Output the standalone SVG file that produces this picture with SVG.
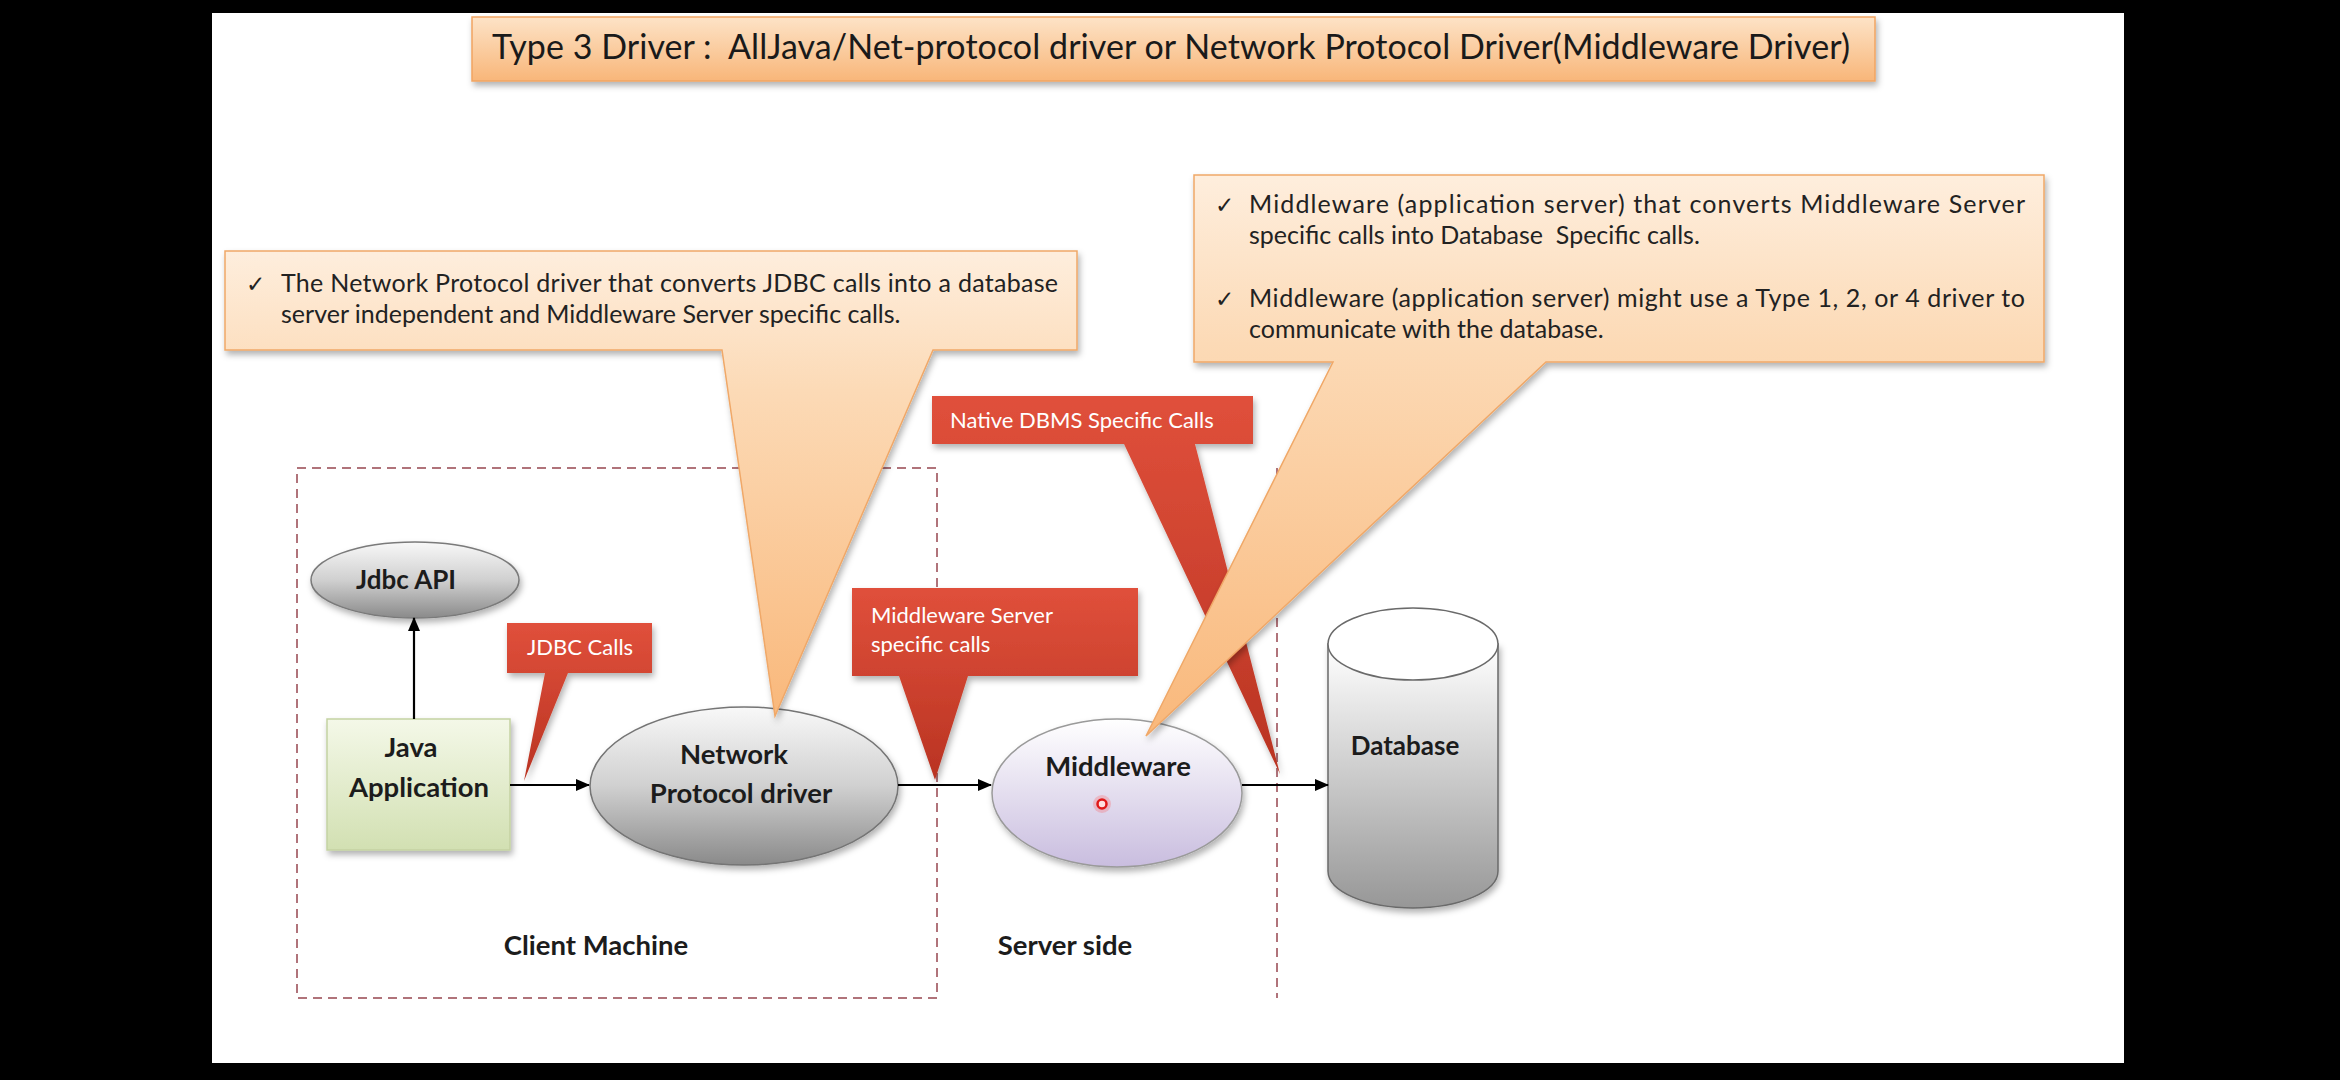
<svg xmlns="http://www.w3.org/2000/svg" width="2340" height="1080" viewBox="0 0 2340 1080">
<defs>
<linearGradient id="gOrange" x1="0" y1="0" x2="0" y2="1"><stop offset="0" stop-color="#feeedd"/><stop offset="0.3" stop-color="#fcdab6"/><stop offset="1" stop-color="#f9b87b"/></linearGradient>
<linearGradient id="gTitle" x1="0" y1="0" x2="0" y2="1"><stop offset="0" stop-color="#fde3c7"/><stop offset="1" stop-color="#f8b679"/></linearGradient>
<linearGradient id="gRed" x1="0" y1="0" x2="0" y2="1"><stop offset="0" stop-color="#e0503b"/><stop offset="1" stop-color="#b93322"/></linearGradient>
<linearGradient id="gGray" x1="0" y1="0" x2="0" y2="1"><stop offset="0" stop-color="#f8f8f8"/><stop offset="0.5" stop-color="#d0d0d0"/><stop offset="1" stop-color="#8a8a8a"/></linearGradient>
<linearGradient id="gLav" x1="0" y1="0" x2="0" y2="1"><stop offset="0" stop-color="#ffffff"/><stop offset="1" stop-color="#c9bddf"/></linearGradient>
<linearGradient id="gGreen" x1="0" y1="0" x2="0" y2="1"><stop offset="0" stop-color="#f4f8e8"/><stop offset="1" stop-color="#d2e0b2"/></linearGradient>
<linearGradient id="gDb" x1="0" y1="0" x2="0" y2="1"><stop offset="0" stop-color="#ffffff"/><stop offset="1" stop-color="#979797"/></linearGradient>
<filter id="shadow" x="-10%" y="-10%" width="120%" height="130%"><feDropShadow dx="2" dy="4" stdDeviation="3" flood-color="#000" flood-opacity="0.3"/></filter>
<marker id="arrow" markerUnits="userSpaceOnUse" markerWidth="14" markerHeight="12" refX="13" refY="6" orient="auto"><path d="M0,0 L14,6 L0,12 Z" fill="#000"/></marker>
<style>
.title{font-family:Lato,"Liberation Sans",sans-serif;font-size:34px;fill:#1a1a1a}
.body{font-family:Lato,"Liberation Sans",sans-serif;font-size:25px;fill:#222}
.chk{font-family:"DejaVu Sans",sans-serif;font-size:23px;font-weight:bold;fill:#222}
.red{font-family:Lato,"Liberation Sans",sans-serif;font-size:22px;fill:#fff}
.node{font-family:Lato,"Liberation Sans",sans-serif;font-size:27.5px;font-weight:bold;fill:#1c1c1c;text-anchor:middle}
.node26{font-size:26px}
.conn{stroke:#000;stroke-width:2.2;fill:none;marker-end:url(#arrow)}
.dash{stroke:#b0737a;stroke-width:2;stroke-dasharray:9 6;fill:none}
.ocall{fill:url(#gOrange);stroke:#f0a868;stroke-width:1.5;filter:url(#shadow)}
.rcall{fill:url(#gRed);filter:url(#shadow)}
</style>
</defs>
<rect x="0" y="0" width="2340" height="1080" fill="#000"/>
<rect x="212" y="13" width="1912" height="1050" fill="#fff"/>

<g id="title">
<rect x="472" y="17" width="1403" height="64" fill="url(#gTitle)" stroke="#f1a462" stroke-width="1.5" filter="url(#shadow)"/>
<text class="title" x="492" y="59" textLength="1358" xml:space="preserve">Type 3 Driver :  AllJava/Net-protocol driver or Network Protocol Driver(Middleware Driver)</text>
</g>

<g id="client-machine-boundary">
<rect class="dash" x="297" y="468" width="640" height="530"/>
<text class="node" x="596" y="955">Client Machine</text>
</g>
<g id="server-side-boundary">
<line class="dash" x1="1277" y1="468" x2="1277" y2="998"/>
<text class="node" x="1065" y="955">Server side</text>
</g>

<g id="jdbc-api">
<ellipse cx="415" cy="580" rx="104" ry="38" fill="url(#gGray)" stroke="#7a7a7a" stroke-width="1.5" filter="url(#shadow)"/>
<text class="node node26" x="406" y="589">Jdbc API</text>
</g>
<g id="java-application">
<rect x="327" y="719" width="183" height="131" fill="url(#gGreen)" stroke="#c4d2a2" stroke-width="1.5" filter="url(#shadow)"/>
<text class="node" x="411" y="757">Java</text>
<text class="node" x="419" y="797">Application</text>
</g>
<g id="network-protocol-driver">
<ellipse cx="744" cy="786" rx="154" ry="79" fill="url(#gGray)" stroke="#747474" stroke-width="1.5" filter="url(#shadow)"/>
<text class="node" x="734" y="764">Network</text>
<text class="node" x="741" y="803">Protocol driver</text>
</g>
<g id="middleware">
<ellipse cx="1117" cy="793" rx="125" ry="74" fill="url(#gLav)" stroke="#9a9a9a" stroke-width="1.5" filter="url(#shadow)"/>
<text class="node" x="1118" y="776">Middleware</text>
<circle cx="1102" cy="804" r="9" fill="#ff5050" opacity="0.25"/>
<circle cx="1102" cy="804" r="4.5" fill="#ffe0e0" stroke="#e01818" stroke-width="2.5"/>
</g>
<g id="database">
<path d="M1328,644 V871 A85,37 0 0 0 1498,871 V644 Z" fill="url(#gDb)" stroke="#6a6a6a" stroke-width="1.5" filter="url(#shadow)"/>
<ellipse cx="1413" cy="644" rx="85" ry="36" fill="#fff" stroke="#6a6a6a" stroke-width="1.5"/>
<text class="node node26" x="1405" y="755">Database</text>
</g>

<g id="connectors">
<line class="conn" x1="414" y1="719" x2="414" y2="618"/>
<line class="conn" x1="510" y1="785" x2="589" y2="785"/>
<line class="conn" x1="898" y1="785" x2="991" y2="785"/>
<line class="conn" x1="1242" y1="785" x2="1328" y2="785"/>
</g>

<g id="callout-jdbc-calls">
<path class="rcall" d="M507,623 H652 V673 H568 L524,781 L545,673 H507 Z"/>
<text class="red" x="527" y="655">JDBC Calls</text>
</g>
<g id="callout-middleware-server-calls">
<path class="rcall" d="M852,588 H1138 V676 H968 L935,780 L899,676 H852 Z"/>
<text class="red" x="871" y="623">Middleware Server</text>
<text class="red" x="871" y="652">specific calls</text>
</g>
<g id="callout-native-dbms-calls">
<path class="rcall" d="M932,396 H1253 V444 H1195 L1280,774 L1124,444 H932 Z"/>
<text class="red" x="950" y="428">Native DBMS Specific Calls</text>
</g>

<g id="callout-network-protocol-driver">
<path class="ocall" d="M225,251 H1077 V350 H933 L775,716 L722,350 H225 Z"/>
<text class="chk" x="246" y="292">✓</text>
<text class="body" x="281" y="292" textLength="777">The Network Protocol driver that converts JDBC calls into a database</text>
<text class="body" x="281" y="323">server independent and Middleware Server specific calls.</text>
</g>
<g id="callout-middleware">
<path class="ocall" d="M1194,175 H2044 V362 H1546 L1146,736 L1333,362 H1194 Z"/>
<text class="chk" x="1215" y="213">✓</text>
<text class="body" x="1249" y="213" textLength="776">Middleware (application server) that converts Middleware Server</text>
<text class="body" x="1249" y="244" xml:space="preserve">specific calls into Database  Specific calls.</text>
<text class="chk" x="1215" y="307">✓</text>
<text class="body" x="1249" y="307" textLength="776">Middleware (application server) might use a Type 1, 2, or 4 driver to</text>
<text class="body" x="1249" y="338">communicate with the database.</text>
</g>
</svg>
